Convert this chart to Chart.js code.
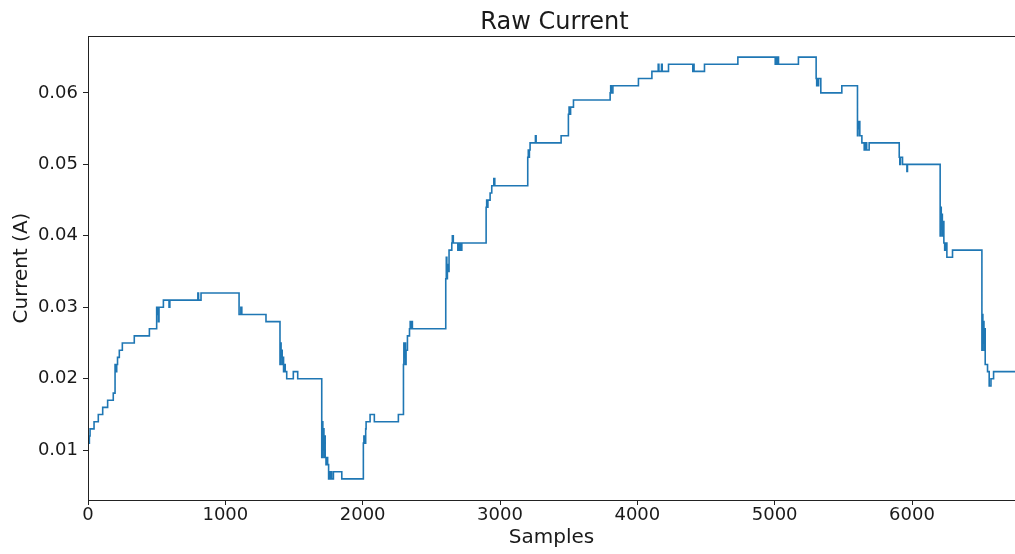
<!DOCTYPE html>
<html>
<head>
<meta charset="utf-8">
<title>Raw Current</title>
<script src="https://cdn.jsdelivr.net/npm/chart.js@4.4.1/dist/chart.umd.min.js"></script>
<style>
  html, body { margin: 0; padding: 0; background: #fff; }
  #wrap { width: 1015px; height: 554px; }
</style>
</head>
<body>
<div id="wrap"><canvas id="chart-canvas" width="1015" height="554"></canvas></div>
<script>
// sample index where each new reading starts, and the reading held from there
const sampleIdx = [
  0, 10, 15, 44, 75, 107, 143, 184, 197, 200, 203, 206, 209, 215, 228, 250, 337, 447,
  500, 505, 509, 513, 517, 549, 590, 596, 800, 805, 823, 1100, 1113, 1120, 1296,
  1398, 1402, 1406, 1410, 1414, 1418, 1424, 1432, 1436, 1447, 1495, 1527,
  1702, 1706, 1710, 1714, 1718, 1722, 1727, 1733, 1740, 1745, 1752, 1757, 1762, 1768, 1774, 1787, 1848,
  2005, 2009, 2012, 2015, 2018, 2022, 2025, 2054, 2085, 2260,
  2297, 2300, 2304, 2308, 2312, 2316, 2326, 2341, 2346, 2350, 2354, 2362,
  2605, 2609, 2613, 2617, 2621, 2629, 2649, 2653, 2660, 2693, 2697, 2701, 2706, 2715, 2722,
  2899, 2903, 2907, 2912, 2928, 2940, 2955, 2962,
  3202, 3206, 3210, 3214, 3219, 3258, 3263, 3445,
  3498, 3503, 3508, 3514, 3535,
  3802, 3806, 3810, 3822, 4008, 4106, 4152, 4157, 4176, 4181, 4227, 4404, 4408, 4413, 4489,
  4732, 5004, 5008, 5012, 5018, 5028, 5173,
  5302, 5306, 5310, 5315, 5320, 5336, 5489,
  5603, 5607, 5611, 5615, 5620, 5635, 5652, 5656, 5660, 5665, 5670, 5688,
  5907, 5911, 5916, 5931, 5963, 5967,
  6205, 6209, 6213, 6217, 6221, 6226, 6232, 6238, 6244, 6254, 6295,
  6509, 6512, 6516, 6520, 6524, 6528, 6533, 6550, 6562, 6575, 6594, 6750
];
const currentA = [
  0.011, 0.012, 0.013, 0.014, 0.015, 0.016, 0.017, 0.018, 0.022, 0.021, 0.022, 0.021, 0.022, 0.023, 0.024, 0.025, 0.026, 0.027,
  0.030, 0.029, 0.030, 0.028, 0.030, 0.031, 0.030, 0.031, 0.032, 0.031, 0.032, 0.029, 0.030, 0.029, 0.028,
  0.022, 0.025, 0.023, 0.024, 0.022, 0.023, 0.021, 0.022, 0.021, 0.020, 0.021, 0.020,
  0.009, 0.014, 0.010, 0.013, 0.009, 0.012, 0.009, 0.008, 0.009, 0.008, 0.006, 0.007, 0.006, 0.007, 0.006, 0.007, 0.006,
  0.011, 0.012, 0.011, 0.012, 0.011, 0.013, 0.014, 0.015, 0.014, 0.015,
  0.022, 0.025, 0.023, 0.025, 0.022, 0.024, 0.026, 0.027, 0.028, 0.027, 0.028, 0.027,
  0.034, 0.037, 0.034, 0.036, 0.035, 0.038, 0.039, 0.040, 0.039, 0.038, 0.039, 0.038, 0.039, 0.038, 0.039,
  0.044, 0.045, 0.044, 0.045, 0.046, 0.047, 0.048, 0.047,
  0.051, 0.052, 0.051, 0.052, 0.053, 0.054, 0.053, 0.054,
  0.057, 0.058, 0.057, 0.058, 0.059,
  0.060, 0.061, 0.060, 0.061, 0.062, 0.063, 0.064, 0.063, 0.064, 0.063, 0.064, 0.063, 0.064, 0.063, 0.064,
  0.065, 0.064, 0.065, 0.064, 0.065, 0.064, 0.065,
  0.062, 0.061, 0.062, 0.061, 0.062, 0.060, 0.061,
  0.054, 0.056, 0.055, 0.056, 0.054, 0.053, 0.052, 0.053, 0.052, 0.053, 0.052, 0.053,
  0.051, 0.050, 0.051, 0.050, 0.049, 0.050,
  0.040, 0.044, 0.041, 0.043, 0.040, 0.042, 0.039, 0.038, 0.039, 0.037, 0.038,
  0.024, 0.029, 0.025, 0.028, 0.024, 0.027, 0.022, 0.021, 0.019, 0.020, 0.021, 0.021
];
const xTickValues = [0, 1000, 2000, 3000, 4000, 5000, 6000];
const yTickValues = [0.01, 0.02, 0.03, 0.04, 0.05, 0.06];
const chartTitle = 'Raw Current';

const FONT = "'DejaVu Sans', sans-serif";
const INK = '#1a1a1a';

// matplotlib-style box around the axes, title centred over the plot area
const framePlugin = {
  id: 'frame',
  afterDraw(chart) {
    const { ctx, chartArea: a } = chart;
    ctx.save();
    ctx.strokeStyle = '#222';
    ctx.lineWidth = 1;
    ctx.strokeRect(a.left + 0.5, a.top + 0.5, a.right - a.left, a.bottom - a.top);
    ctx.fillStyle = INK;
    ctx.font = `24px ${FONT}`;
    ctx.textAlign = 'center';
    ctx.textBaseline = 'alphabetic';
    ctx.fillText(chartTitle, (a.left + a.right) / 2 + 3, 29);
    ctx.restore();
  }
};

const points = sampleIdx.map((x, i) => ({ x, y: currentA[i] }));

new Chart(document.getElementById('chart-canvas').getContext('2d'), {
  type: 'line',
  data: {
    datasets: [{
      label: chartTitle,
      data: points,
      borderColor: '#1f77b4',
      borderWidth: 1.6,
      pointRadius: 0,
      stepped: 'before',
      fill: false
    }]
  },
  options: {
    responsive: false,
    animation: false,
    layout: { padding: { left: 0, right: 0, top: 36, bottom: 0 } },
    plugins: {
      legend: { display: false },
      tooltip: { enabled: false },
      title: { display: false }
    },
    scales: {
      x: {
        type: 'linear',
        min: 0,
        max: 6750,
        afterBuildTicks: s => { s.ticks = xTickValues.map(v => ({ value: v })); },
        afterFit: s => { s.height = 54; },
        ticks: { color: INK, font: { family: FONT, size: 18 }, padding: 0, maxRotation: 0, callback: v => String(v) },
        grid: { drawOnChartArea: false, tickLength: 5, tickColor: '#222' },
        border: { color: '#222', width: 1 },
        title: {
          display: true,
          text: 'Samples',
          color: INK,
          font: { family: FONT, size: 20 },
          padding: { top: 0, bottom: 4 }
        }
      },
      y: {
        min: 0.00305,
        max: 0.06795,
        afterBuildTicks: s => { s.ticks = yTickValues.map(v => ({ value: v })); },
        afterFit: s => { s.width = 88; },
        ticks: { color: INK, font: { family: FONT, size: 18 }, padding: 5, callback: v => v.toFixed(2) },
        grid: { drawOnChartArea: false, tickLength: 5, tickColor: '#222' },
        border: { color: '#222', width: 1 },
        title: {
          display: true,
          text: 'Current (A)',
          color: INK,
          font: { family: FONT, size: 20 },
          padding: { top: 10, bottom: 0 }
        }
      }
    }
  },
  plugins: [framePlugin]
});
</script>
</body>
</html>
